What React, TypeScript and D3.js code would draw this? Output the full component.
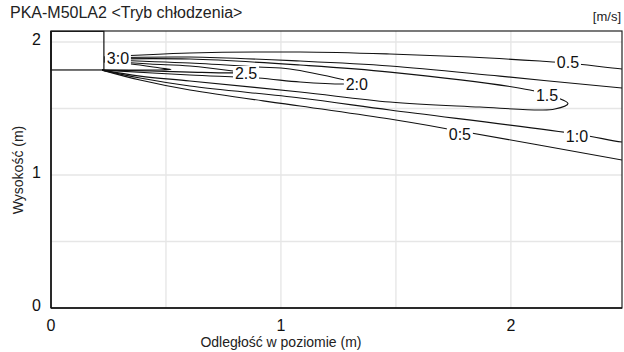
import React from "react";
import * as d3 from "d3";

const W = 624;
const H = 352;

const titleText = "PKA-M50LA2 <Tryb chłodzenia>";
const unitText = "[m/s]";
const xAxisLabel = "Odległość w poziomie (m)";
const yAxisLabel = "Wysokość (m)";

const xTicks = [0, 1, 2];
const yTicks = [0, 1, 2];
const xGrid = [0.5, 1, 1.5, 2];
const yGrid = [0.5, 1, 1.5, 2];

// indoor unit outline [x0, x1, y0, y1] in metres
const unitBox = [0, 0.23, 1.79, 2.08];

// velocity contours (m/s): points in metres, upper edge then lower edge
const contour30: [number, number][] = [
  [0.23, 1.85], [0.348, 1.835], [0.474, 1.805], [0.522, 1.793],
  [0.474, 1.79], [0.348, 1.789], [0.222, 1.789],
];
const contour25: [number, number][] = [
  [0.23, 1.857], [0.43, 1.835], [0.604, 1.82], [0.80, 1.78], [0.83, 1.772],
  [0.79, 1.768], [0.604, 1.774], [0.43, 1.782], [0.222, 1.789],
];
const contour20: [number, number][] = [
  [0.23, 1.865], [0.604, 1.842], [0.9, 1.812], [1.039, 1.797], [1.278, 1.714],
  [1.33, 1.69], [1.278, 1.684], [1.083, 1.699], [0.9, 1.729], [0.604, 1.752], [0.222, 1.789],
];
const contour15: [number, number][] = [
  [0.23, 1.872], [0.604, 1.872], [1.083, 1.827], [1.474, 1.774], [2.083, 1.639],
  [2.204, 1.579], [2.248, 1.537], [2.191, 1.496], [2.126, 1.489], [1.865, 1.511],
  [1.474, 1.549], [1.083, 1.624], [0.604, 1.707], [0.387, 1.744], [0.222, 1.789],
];
const contour10: [number, number][] = [
  [0.23, 1.88], [0.604, 1.887], [1.083, 1.857], [1.474, 1.82], [1.952, 1.744],
  [2.483, 1.654], [2.6, 1.64], [2.6, 1.23], [2.483, 1.248], [2.287, 1.308],
  [1.474, 1.489], [1.083, 1.579], [0.604, 1.669], [0.387, 1.729], [0.222, 1.789],
];
const contour05: [number, number][] = [
  [0.23, 1.887], [0.604, 1.917], [1.083, 1.925], [1.474, 1.91], [1.822, 1.887],
  [2.126, 1.857], [2.248, 1.842], [2.483, 1.797], [2.6, 1.78], [2.6, 1.076],
  [2.483, 1.113], [1.778, 1.331], [1.474, 1.421], [1.083, 1.519], [0.604, 1.639],
  [0.387, 1.714], [0.222, 1.789],
];
const contours = [contour30, contour25, contour20, contour15, contour10, contour05];

// contour labels: text, x, y (metres)
const labelTexts = ["3:0", "2.5", "2:0", "1.5", "0.5", "1:0", "0:5"];
const labelX = [0.291, 0.848, 1.33, 2.157, 2.248, 2.287, 1.778];
const labelY = [1.88, 1.767, 1.684, 1.602, 1.85, 1.293, 1.308];

const FONT = "'Liberation Sans', Arial, Helvetica, sans-serif";

export default function App() {
  const left = 51, right = 622, top = 31, bottom = 308;
  const x = d3.scaleLinear().domain([0, 2.483]).range([left, right]);
  const y = d3.scaleLinear().domain([0, 2.083]).range([bottom, top]);
  const line = d3
    .line<[number, number]>()
    .x((d) => x(d[0]))
    .y((d) => y(d[1]))
    .curve(d3.curveCatmullRom.alpha(0.5));

  const labelFont = 16;

  return (
    <svg width={W} height={H} style={{ display: "block", position: "absolute", left: 0, top: 0 }} fontFamily={FONT}>
      <rect width={W} height={H} fill="#fff" />
      <defs>
        <clipPath id="plotClip">
          <rect x={left} y={top} width={right - left} height={bottom - top} />
        </clipPath>
      </defs>
      <text x={10} y={18} fontSize={16} fill="#222">{titleText}</text>
      <text x={621} y={21} fontSize={13} fill="#222" textAnchor="end">{unitText}</text>

      {xGrid.map((g) => (
        <line key={"gx" + g} x1={x(g)} x2={x(g)} y1={top} y2={bottom} stroke="#dddddd" strokeWidth={1} />
      ))}
      {yGrid.map((g) => (
        <line key={"gy" + g} x1={left} x2={right} y1={y(g)} y2={y(g)} stroke="#e6e6e6" strokeWidth={1.5} />
      ))}

      <g clipPath="url(#plotClip)">
        {contours.map((c, i) => (
          <path key={"c" + i} d={line(c) || ""} fill="none" stroke="#111" strokeWidth={1.1} />
        ))}
      </g>

      {labelTexts.map((t, i) => {
        const w = t.length * labelFont * 0.5;
        return (
          <g key={"l" + i}>
            <rect x={x(labelX[i]) - w / 2 - 1} y={y(labelY[i]) - 7} width={w + 2} height={14} fill="#fff" />
            <text x={x(labelX[i])} y={y(labelY[i])} dy="0.36em" fontSize={labelFont} textAnchor="middle" fill="#111">{t}</text>
          </g>
        );
      })}

      <rect
        x={x(unitBox[0])}
        y={y(unitBox[3])}
        width={x(unitBox[1]) - x(unitBox[0])}
        height={y(unitBox[2]) - y(unitBox[3])}
        fill="none"
        stroke="#111"
        strokeWidth={1.2}
      />

      <rect x={left} y={top} width={right - left} height={bottom - top} fill="none" stroke="#222" strokeWidth={1.2} />
      <line x1={left} x2={left} y1={top} y2={bottom} stroke="#111" strokeWidth={1.5} />
      <line x1={left} x2={right} y1={bottom} y2={bottom} stroke="#111" strokeWidth={1.5} />

      {xTicks.map((t) => (
        <text key={"xt" + t} x={x(t)} y={331} fontSize={16} textAnchor="middle" fill="#111">{t}</text>
      ))}
      {yTicks.map((t) => (
        <text key={"yt" + t} x={41} y={y(t)} dy="0.2em" fontSize={16} textAnchor="end" fill="#111">{t}</text>
      ))}

      <text x={x(1)} y={347} fontSize={14} textAnchor="middle" fill="#222">{xAxisLabel}</text>
      <text transform={`translate(23, ${170}) rotate(-90)`} fontSize={14} textAnchor="middle" fill="#222">{yAxisLabel}</text>
    </svg>
  );
}
